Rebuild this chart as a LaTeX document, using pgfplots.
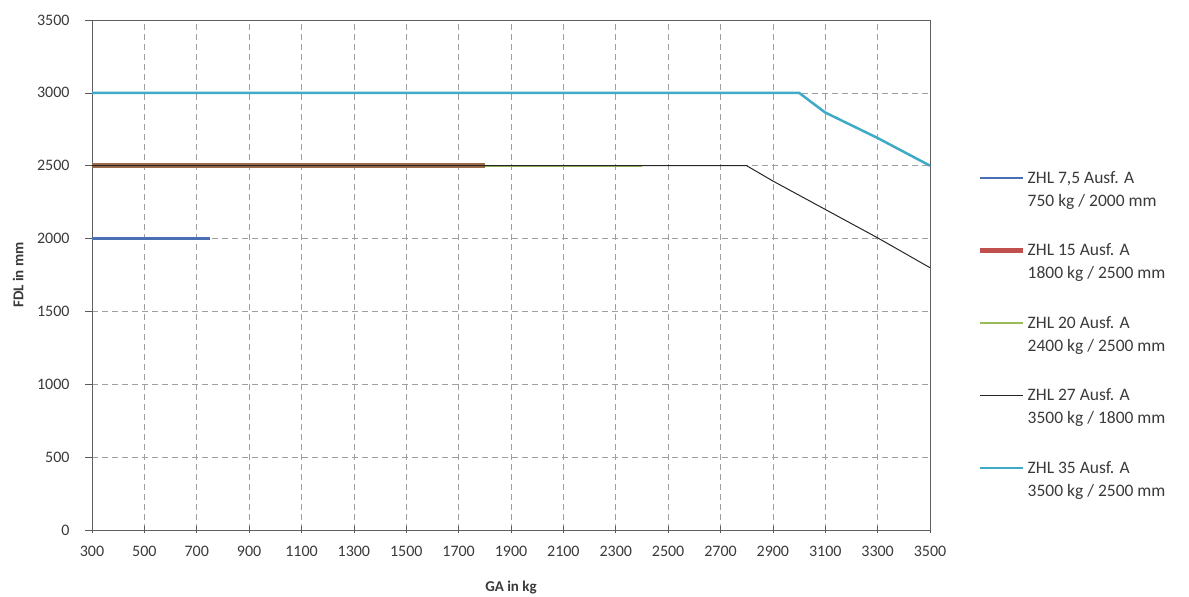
\documentclass[border=0pt]{standalone}
\usepackage{pgfplots}
\pgfplotsset{compat=1.18}
\usepackage{fontspec}
\setmainfont{Carlito}
\definecolor{cBlue}{HTML}{4A6FB5}
\definecolor{cBrown}{HTML}{9C6A48}
\definecolor{cRed}{HTML}{C0504D}
\definecolor{cGreen}{HTML}{9BBB59}
\definecolor{cCyan}{HTML}{3FAAC8}
\definecolor{cTxt}{HTML}{3A3A3A}
\begin{document}
\begin{tikzpicture}[x=1pt,y=1pt]
\useasboundingbox (0,0) rectangle (1189,597);
\begin{axis}[
  at={(92pt,67pt)}, anchor=south west,
  scale only axis, width=838pt, height=510pt,
  xmin=300, xmax=3500, ymin=0, ymax=3500,
  xtick={300,500,...,3500}, ytick={0,500,...,3500},
  /pgf/number format/.cd, 1000 sep={}, assume math mode=true,
  /pgfplots/.cd,
  ticklabel style={font=\fontsize{16}{18}\selectfont, text=cTxt},
  xticklabel style={yshift=-9pt},
  yticklabel style={xshift=-12pt},
  grid=major,
  major grid style={dash pattern=on 6pt off 4pt, gray!75, line width=0.7pt},
  axis line style={gray!75!black, line width=0.9pt},
  tick style={gray!70!black, line width=0.7pt},
  xtick pos=bottom, ytick pos=left,
  xtick align=center, ytick align=outside,
  major tick length=7pt,
  xlabel={\textbf{GA in kg}}, ylabel={\textbf{FDL in mm}},
  label style={font=\fontsize{15}{17}\selectfont, text=cTxt},
  xlabel style={at={(axis description cs:0.5,0)}, anchor=center, yshift=-58pt},
  ylabel style={at={(axis description cs:0,0.5)}, anchor=center, rotate=0, yshift=74pt},
  legend cell align=left,
  legend style={at={(axis description cs:1.0537,0.712)}, anchor=north west, draw=none, fill=none,
    font=\fontsize{17.5}{23}\selectfont, text=cTxt,
    nodes={align=left, inner sep=2pt},
    row sep=32pt},
  legend image code/.code={\path[draw=none,fill=none] (0pt,-11.5pt) rectangle (43pt,11.5pt);\draw[#1] (0pt,11.5pt) -- (43pt,11.5pt);},
]
\addplot[cBlue, line width=2.5pt, forget plot] coordinates {(300,2000) (750,2000)};
\addplot[cGreen, line width=2pt, forget plot] coordinates {(300,2500) (2400,2500)};
\addplot[cBrown, line width=5pt, forget plot] coordinates {(300,2500) (1800,2500)};
\addplot[black!85, line width=1pt, forget plot] coordinates {(300,2500) (2800,2500) (2900,2395) (3100,2200) (3300,2005) (3500,1800)};
\addplot[cCyan, line width=2.5pt, forget plot] coordinates {(300,3000) (3000,3000) (3100,2865) (3300,2690) (3500,2500)};
\addlegendimage{cBlue, line width=2.5pt}
\addlegendentry{ZHL 7,5 Ausf. A\\750 kg / 2000 mm}
\addlegendimage{cRed, line width=4.5pt}
\addlegendentry{ZHL 15 Ausf. A\\1800 kg / 2500 mm}
\addlegendimage{cGreen, line width=2pt}
\addlegendentry{ZHL 20 Ausf. A\\2400 kg / 2500 mm}
\addlegendimage{black!85, line width=1pt}
\addlegendentry{ZHL 27 Ausf. A\\3500 kg / 1800 mm}
\addlegendimage{cCyan, line width=2.5pt}
\addlegendentry{ZHL 35 Ausf. A\\3500 kg / 2500 mm}
\end{axis}
\end{tikzpicture}
\end{document}
